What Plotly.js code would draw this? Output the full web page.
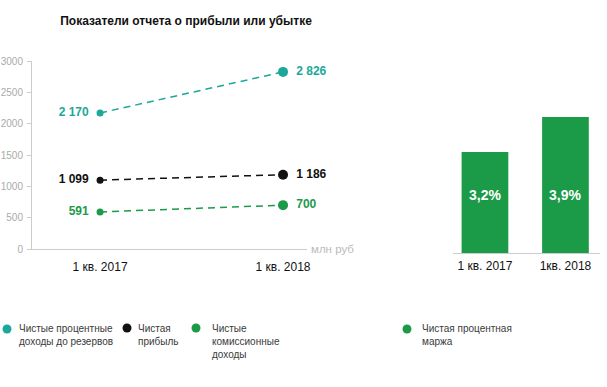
<!DOCTYPE html>
<html><head><meta charset="utf-8">
<script src="https://cdn.plot.ly/plotly-3.0.1.min.js"></script>
<style>html,body{margin:0;padding:0;background:#fff}#c{width:607px;height:387px}</style>
</head><body><div id="c"></div>
<script>
// Data
const quarters = ["1 кв. 2017", "1 кв. 2018"];
const barQuarters = ["1 кв. 2017", "1кв. 2018"];
const netInterestIncome = [2170, 2826];
const netProfit = [1099, 1186];
const netFeeIncome = [591, 700];
const netInterestMargin = [3.2, 3.9];
const marginLabels = ["3,2%", "3,9%"];
const seriesNames = ["Чистые процентные<br>доходы до резервов", "Чистая<br>прибыль", "Чистые<br>комиссионные<br>доходы", "Чистая процентная<br>маржа"];

const W = 607, H = 387;
const px = v => v / W, py = v => 1 - v / H;
const TEAL = '#1ba89a', BLACK = '#111111', GREEN = '#1b9a48';
const FONT = 'Liberation Sans, Arial, sans-serif';
const fmt = v => String(v).replace(/\B(?=(\d{3})+(?!\d))/g, ' ');

function lineTrace(y, color) {
  return {
    type: 'scatter', mode: 'lines+markers+text', x: quarters, y: y,
    xaxis: 'x', yaxis: 'y',
    line: {color: color, width: 1.5, dash: '7px,5px'},
    marker: {color: color, size: [7, 10], opacity: 1, line: {width: 0}},
    text: y.map((v, i) => i === 0 ? fmt(v) + '\u2002' : '\u2002' + fmt(v)),
    textposition: ['middle left', 'middle right'],
    textfont: {family: FONT, size: 12, color: color, weight: 'bold'},
    cliponaxis: false, showlegend: false, hoverinfo: 'skip'
  };
}

const traces = [
  lineTrace(netInterestIncome, TEAL),
  lineTrace(netProfit, BLACK),
  lineTrace(netFeeIncome, GREEN),
  {
    type: 'bar', x: barQuarters, y: netInterestMargin, xaxis: 'x2', yaxis: 'y2',
    marker: {color: GREEN}, width: 0.58, showlegend: false, hoverinfo: 'skip'
  }
];

const annotations = [
  {text: 'млн руб', xref: 'paper', yref: 'paper', x: px(309), y: py(249), xanchor: 'left', yanchor: 'middle',
   showarrow: false, font: {family: FONT, size: 11.5, color: '#bbbbbb'}}
];
barQuarters.forEach((q, i) => annotations.push({
  text: marginLabels[i], xref: 'x2', yref: 'paper', x: q, y: py(195), showarrow: false,
  font: {family: FONT, size: 14, color: '#ffffff', weight: 'bold'}
}));
const legendX = [17, 136, 210, 420];
const legendDot = [[7, 329], [127, 328], [196, 328], [407, 329]];
const legendColors = [TEAL, BLACK, GREEN, GREEN];
const shapes = [];
seriesNames.forEach((n, i) => {
  annotations.push({text: n, xref: 'paper', yref: 'paper', x: px(legendX[i]), y: py(321), xanchor: 'left', yanchor: 'top',
    align: 'left', showarrow: false, font: {family: FONT, size: 10, color: '#3a3a3a'}});
  shapes.push({type: 'circle', xref: 'paper', yref: 'paper', xsizemode: 'pixel', ysizemode: 'pixel',
    xanchor: px(legendDot[i][0]), yanchor: py(legendDot[i][1]), x0: -4.5, x1: 4.5, y0: -4.5, y1: 4.5,
    fillcolor: legendColors[i], line: {width: 0}});
});

const layout = {
  width: W, height: H, margin: {l: 0, r: 0, t: 0, b: 0},
  paper_bgcolor: '#fff', plot_bgcolor: '#fff',
  font: {family: FONT, color: '#111'},
  title: {text: '<b>Показатели отчета о прибыли или убытке</b>', x: px(186), xanchor: 'center',
          y: py(21), yanchor: 'middle', yref: 'container', xref: 'container',
          font: {family: FONT, size: 12, color: '#111'}},
  xaxis: {domain: [px(32), px(307)], range: [-0.372, 1.131], type: 'category',
          showline: true, linecolor: '#cccccc', linewidth: 1, ticks: '', showgrid: false, zeroline: false,
          tickfont: {size: 12, color: '#111'}, ticklabelstandoff: 7, fixedrange: true},
  yaxis: {domain: [py(249), py(61)], range: [0, 3000], dtick: 500,
          showline: true, linecolor: '#cccccc', linewidth: 1, ticks: 'outside', ticklen: 4, tickcolor: '#cccccc',
          showgrid: false, zeroline: false, tickfont: {size: 10, color: '#aaaaaa'}, ticklabelstandoff: 2, fixedrange: true},
  xaxis2: {domain: [px(453), px(600)], range: [-0.397, 1.429], type: 'category', anchor: 'y2',
           showline: true, linecolor: '#cccccc', linewidth: 1, ticks: '', showgrid: false, zeroline: false,
           tickfont: {size: 12, color: '#111'}, ticklabelstandoff: 2, fixedrange: true},
  yaxis2: {domain: [py(253), py(100)], range: [1.18, 4.24], anchor: 'x2', visible: false, fixedrange: true},
  annotations: annotations, shapes: shapes, bargap: 0.42
};

Plotly.newPlot('c', traces, layout, {displayModeBar: false, staticPlot: true});
</script></body></html>
